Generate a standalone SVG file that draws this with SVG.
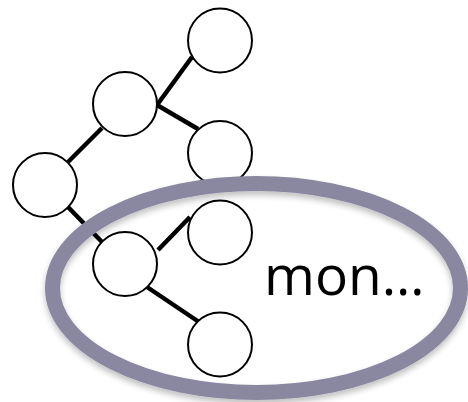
<svg xmlns="http://www.w3.org/2000/svg" width="468" height="402" viewBox="0 0 468 402">
  <defs>
    <style>
      .node { fill: #ffffff; stroke: #000000; stroke-width: 2; }
      .edge { stroke: #000000; stroke-width: 4.5; stroke-linecap: butt; }
      .ring { fill: none; stroke: #8a87a0; stroke-width: 15; }
      .label { font-family: "Open Sans", "Liberation Sans", sans-serif; font-size: 55px; fill: #000000; }
    </style>
    <filter id="soft" x="-10%" y="-10%" width="120%" height="130%">
      <feGaussianBlur in="SourceAlpha" stdDeviation="3"/>
      <feOffset dx="0" dy="4" result="blur"/>
      <feComponentTransfer><feFuncA type="linear" slope="0.25"/></feComponentTransfer>
      <feMerge><feMergeNode/><feMergeNode in="SourceGraphic"/></feMerge>
    </filter>
  </defs>
  <rect width="468" height="402" fill="#ffffff"/>

  <!-- tree edges -->
  <g id="connectors">
    <line class="edge" x1="68" y1="162" x2="102" y2="128"/>
    <line class="edge" x1="68" y1="207" x2="102" y2="242"/>
    <line class="edge" x1="157" y1="105" x2="192" y2="57"/>
    <line class="edge" x1="157" y1="105" x2="198" y2="129"/>
    <line class="edge" x1="158" y1="250" x2="190" y2="217"/>
    <line class="edge" x1="147" y1="287" x2="199" y2="322"/>
  </g>

  <!-- tree nodes -->
  <g id="n-root"><circle class="node" cx="45" cy="185" r="32"/></g>
  <g id="n-a"><circle class="node" cx="125" cy="104" r="32"/></g>
  <g id="n-a1"><circle class="node" cx="220" cy="40.5" r="32"/></g>
  <g id="n-a2"><circle class="node" cx="220" cy="153" r="32"/></g>

  <!-- highlighted subtree -->
  <g id="highlight">
    <ellipse class="ring" cx="256.5" cy="288" rx="204" ry="104.5" filter="url(#soft)"/>
    <text class="label" x="264" y="295">mon…</text>
  </g>

  <g id="n-b"><circle class="node" cx="125" cy="264" r="32"/></g>
  <g id="n-b1"><circle class="node" cx="220" cy="232.5" r="32"/></g>
  <g id="n-b2"><circle class="node" cx="220" cy="344.5" r="32"/></g>
</svg>
